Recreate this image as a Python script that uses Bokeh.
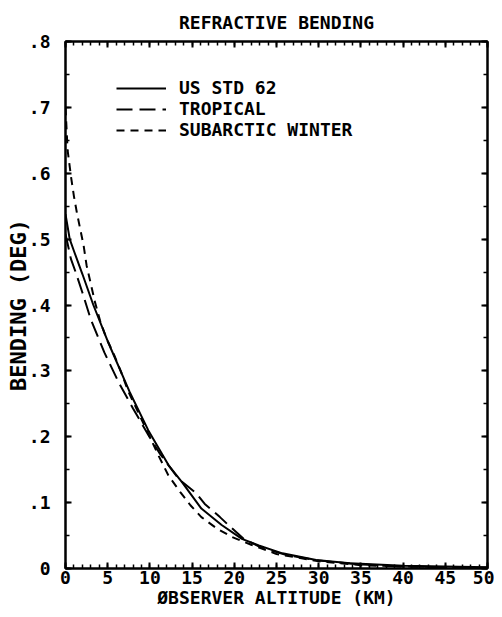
from bokeh.plotting import figure
from bokeh.models import (FixedTicker, LinearAxis, CustomJSTickFormatter, Range1d,
                          Legend, LegendItem)
from bokeh.embed import file_html
from bokeh.resources import INLINE

# ---- data ----
title_text = "REFRACTIVE BENDING"
x_label = "ØBSERVER ALTITUDE (KM)"
y_label = "BENDING (DEG)"

x_ticks = [0, 5, 10, 15, 20, 25, 30, 35, 40, 45, 50]
x_tick_labels = ["0", "5", "10", "15", "20", "25", "30", "35", "40", "45", "50"]
y_ticks = [0.0, 0.1, 0.2, 0.3, 0.4, 0.5, 0.6, 0.7, 0.8]
y_tick_labels = ["0", ".1", ".2", ".3", ".4", ".5", ".6", ".7", ".8"]

series_names = ["US STD 62", "TROPICAL", "SUBARCTIC WINTER"]

us_km = [0, 0.5, 1, 2, 3.3, 5, 7.6, 9.8, 12.2, 13.8, 16.1, 18.5, 20.9, 22.9,
         25.7, 29.7, 33.7, 40, 45, 50]
us_bend = [0.538, 0.50, 0.482, 0.447, 0.40, 0.345, 0.268, 0.21, 0.157, 0.131,
           0.091, 0.066, 0.045, 0.035, 0.023, 0.013, 0.008, 0.004, 0.003, 0.002]

tr_km = [0, 0.64, 1.2, 2.0, 3.0, 4.6, 6.4, 8.0, 9.8, 11.2, 13.4, 15.5, 16.5,
         18.3, 19.3, 21.1, 23, 26, 30, 35, 40, 50]
tr_bend = [0.508, 0.47, 0.45, 0.419, 0.378, 0.328, 0.28, 0.243, 0.203, 0.174,
           0.136, 0.114, 0.098, 0.078, 0.066, 0.045, 0.033, 0.021, 0.012, 0.006,
           0.003, 0.001]

sw_km = [0, 0.25, 0.65, 1.0, 1.35, 1.75, 2.15, 2.5, 3.0, 3.5, 4.1, 4.8, 5.8, 6.6,
         7.4, 8.5, 9.8, 11, 12.2, 13.6, 14.8, 16.1, 17.9, 19.7, 22, 25, 30, 35,
         40, 50]
sw_bend = [0.70, 0.635, 0.595, 0.565, 0.54, 0.515, 0.49, 0.46, 0.432, 0.404,
           0.376, 0.351, 0.323, 0.298, 0.27, 0.24, 0.205, 0.172, 0.141, 0.116,
           0.096, 0.078, 0.061, 0.048, 0.036, 0.022, 0.011, 0.005, 0.003, 0.001]

# ---- styling ----
FONT = "DejaVu Sans Mono"
INK = "black"

p = figure(width=494, height=612, output_backend="svg", toolbar_location=None,
           x_range=Range1d(0, 50), y_range=Range1d(0, 0.8),
           min_border_left=65, min_border_right=7, min_border_top=41,
           min_border_bottom=44)
p.grid.visible = False
p.outline_line_color = INK
p.outline_line_width = 2
p.background_fill_color = "white"
p.border_fill_color = "white"

p.title.text = title_text
p.title.align = "center"
p.title.text_font = FONT
p.title.text_font_size = "18px"
p.title.text_font_style = "bold"
p.title.text_color = INK
p.title.standoff = 17

x_minor = [float(v) for v in range(0, 51)]
y_minor = [i * 0.05 for i in range(0, 17)]

FMT_CODE = """
const i = tv.findIndex(t => Math.abs(t - tick) < 1e-9);
return i >= 0 ? tl[i] : '';
"""
x_fmt = CustomJSTickFormatter(args=dict(tv=x_ticks, tl=x_tick_labels), code=FMT_CODE)
y_fmt = CustomJSTickFormatter(args=dict(tv=y_ticks, tl=y_tick_labels), code=FMT_CODE)


def style_axis(ax, show_labels):
    ax.axis_line_color = INK
    ax.axis_line_width = 2
    ax.major_tick_line_color = INK
    ax.major_tick_line_width = 2
    ax.minor_tick_line_color = INK
    ax.minor_tick_line_width = 1.5
    ax.major_tick_in = 6
    ax.major_tick_out = 0
    ax.minor_tick_in = 4
    ax.minor_tick_out = 0
    ax.major_label_text_font = FONT
    ax.major_label_text_font_style = "bold"
    ax.axis_label_text_font = FONT
    ax.axis_label_text_font_style = "bold"
    ax.axis_label_text_color = INK
    if show_labels:
        ax.major_label_text_font_size = "18px"
        ax.major_label_text_color = INK
    else:
        ax.major_label_text_font_size = "1px"
        ax.major_label_text_color = None
        ax.major_label_standoff = 0


xb = p.xaxis[0]
xb.ticker = FixedTicker(ticks=x_ticks, minor_ticks=x_minor)
xb.formatter = x_fmt
style_axis(xb, True)
xb.axis_label = x_label
xb.axis_label_text_font_size = "18px"
xb.major_label_standoff = 2
xb.axis_label_standoff = 0

yl = p.yaxis[0]
yl.ticker = FixedTicker(ticks=y_ticks, minor_ticks=y_minor)
yl.formatter = y_fmt
style_axis(yl, True)
yl.axis_label = y_label
yl.axis_label_text_font_size = "22px"
yl.major_label_standoff = 15
yl.axis_label_standoff = -5
yl.major_label_orientation = "horizontal"

xt = LinearAxis(ticker=FixedTicker(ticks=x_ticks, minor_ticks=x_minor), formatter=x_fmt)
style_axis(xt, False)
p.add_layout(xt, "above")

yr = LinearAxis(ticker=FixedTicker(ticks=y_ticks, minor_ticks=y_minor), formatter=y_fmt)
style_axis(yr, False)
p.add_layout(yr, "right")

r_us = p.line(us_km, us_bend, line_color=INK, line_width=2)
r_tr = p.line(tr_km, tr_bend, line_color=INK, line_width=2, line_dash="16 7")
r_sw = p.line(sw_km, sw_bend, line_color=INK, line_width=2, line_dash="8 6")

legend = Legend(items=[LegendItem(label=series_names[0], renderers=[r_us]),
                       LegendItem(label=series_names[1], renderers=[r_tr]),
                       LegendItem(label=series_names[2], renderers=[r_sw])],
                location=(51, 428))
legend.border_line_color = None
legend.background_fill_alpha = 0
legend.padding = 0
legend.margin = 0
legend.spacing = 0
legend.glyph_width = 50
legend.glyph_height = 20
legend.label_height = 20
legend.label_standoff = 13
legend.label_text_font = FONT
legend.label_text_font_size = "18px"
legend.label_text_font_style = "bold"
legend.label_text_color = INK
p.add_layout(legend)

open("out.html", "w").write(file_html(p, INLINE))
